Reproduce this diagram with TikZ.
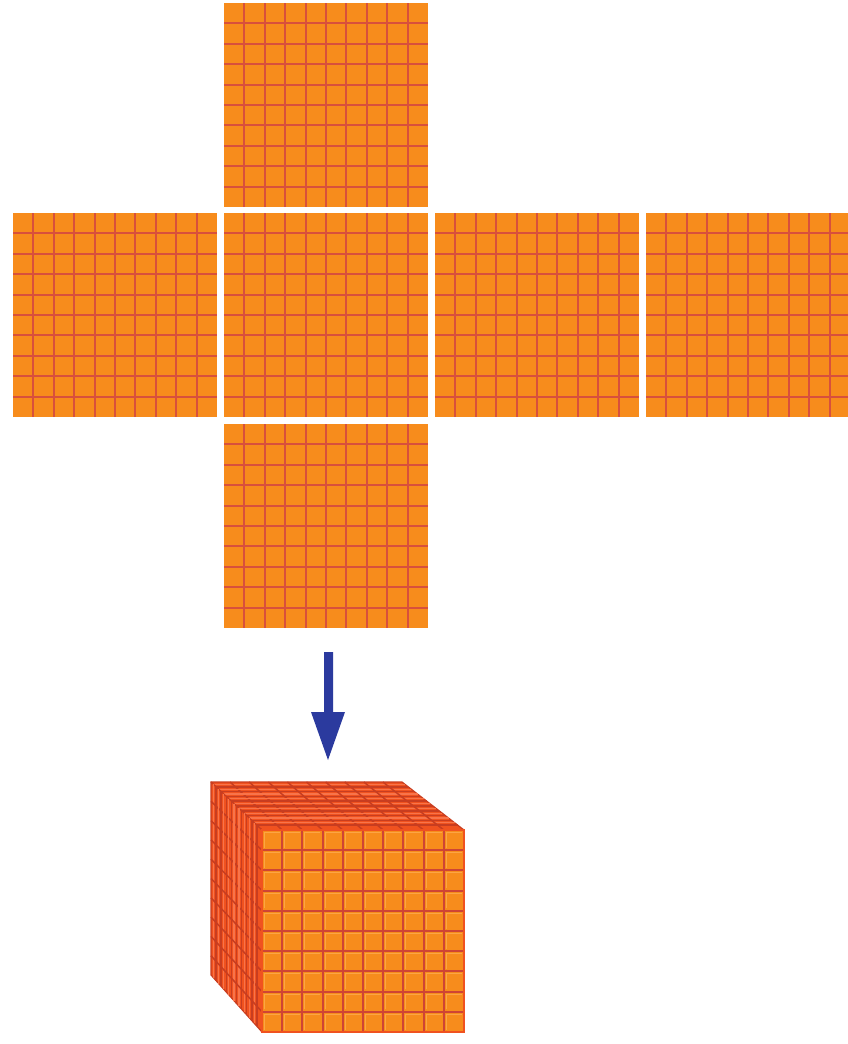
\documentclass[tikz,border=0pt]{standalone}
\usetikzlibrary{calc}
\definecolor{cellorange}{HTML}{F78C1C}
\definecolor{cellhi}{HTML}{FBA544}
\definecolor{gridred}{HTML}{D8503C}
\definecolor{cubegrid}{HTML}{CF4434}
\definecolor{sidered}{HTML}{F0521F}
\definecolor{sidedark}{HTML}{C83D20}
\definecolor{sidelight}{HTML}{F8744A}
\definecolor{arrowblue}{HTML}{2B3A9E}
\tikzset{
  panelfill/.style={fill=cellorange,draw=none},
  gridline/.style={draw=gridred,line width=1.9pt},
  cubeline/.style={draw=cubegrid,line width=2pt},
  cellshine/.style={draw=cellhi,line width=1pt},
  sideface/.style={fill=sidered,draw=sidedark,line width=1.2pt,line join=round},
  sideline/.style={draw=sidedark,line width=1.5pt},
  sidelinelight/.style={draw=sidelight,line width=1.2pt},
  frontedge/.style={draw=sidered,line width=1.2pt},
  bluearrow/.style={fill=arrowblue,draw=none},
}
\newcommand{\gridpanel}[3]{% x, y, size
  \fill[panelfill] (#1,#2) rectangle ++(#3,#3);
  \foreach \k in {1,...,9}{
    \draw[gridline] ({#1+\k*#3/10},#2) -- ++(0,#3);
    \draw[gridline] (#1,{#2+\k*#3/10}) -- ++(#3,0);
  }
}
\begin{document}
\begin{tikzpicture}[x=1pt,y=-1pt]
\useasboundingbox (0,0) rectangle (848,1044);
% net of the cube
\gridpanel{224}{3}{204}
\gridpanel{13}{213}{204}
\gridpanel{224}{213}{204}
\gridpanel{435}{213}{204}
\begin{scope}
  \clip (0,0) rectangle (848,1044);
  \gridpanel{646}{213}{204}
\end{scope}
\gridpanel{224}{424}{204}
% arrow
\coordinate (arrowstart) at (328.5,652);
\coordinate (arrowtip) at (328,760);
\fill[bluearrow] ($(arrowstart)+(-4.5,0)$) -- ($(arrowstart)+(4.5,0)$) -- (333,712) -- (345,712)
  -- (arrowtip) -- (311,712) -- (324,712) -- cycle;
% cube: top face
\fill[sideface] (211,782) -- (402,782) -- (464,830) -- (262,830) -- cycle;
\foreach \k in {1,...,9}{
  \draw[sidelinelight] ({211+(\k-.5)*5.1},{782+(\k-.5)*4.8}) -- ({402+(\k-.5)*6.2},{782+(\k-.5)*4.8});
  \draw[sideline] ({211+\k*5.1},{782+\k*4.8}) -- ({402+\k*6.2},{782+\k*4.8});
  \draw[sideline] ({211+\k*19.1},782) -- ({262+\k*20.2},830);
}
% cube: left face
\fill[sideface] (211,782) -- (262,830) -- (262,1032) -- (211,975) -- cycle;
\foreach \k in {1,...,9}{
  \draw[sidelinelight] ({211+(\k-.5)*5.1},{782+(\k-.5)*4.8}) -- ({211+(\k-.5)*5.1},{975+(\k-.5)*5.7});
  \draw[sideline] ({211+\k*5.1},{782+\k*4.8}) -- ({211+\k*5.1},{975+\k*5.7});
  \draw[sideline] (211,{782+\k*19.3}) -- (262,{830+\k*20.2});
}
% cube: front face
\fill[panelfill] (262,830) rectangle (464,1032);
\foreach \i in {0,...,9}{
  \foreach \j in {0,...,9}{
    \draw[cellshine] ({264.5+\i*20.2},{850.2+\j*20.2-2.5}) -- ({264.5+\i*20.2},{832.5+\j*20.2}) -- ({280+\i*20.2},{832.5+\j*20.2});
  }
}
\foreach \k in {1,...,9}{
  \draw[cubeline] ({262+\k*20.2},830) -- ++(0,202);
  \draw[cubeline] (262,{830+\k*20.2}) -- ++(202,0);
}
\draw[frontedge] (262,830) rectangle (464,1032);
\end{tikzpicture}
\end{document}
